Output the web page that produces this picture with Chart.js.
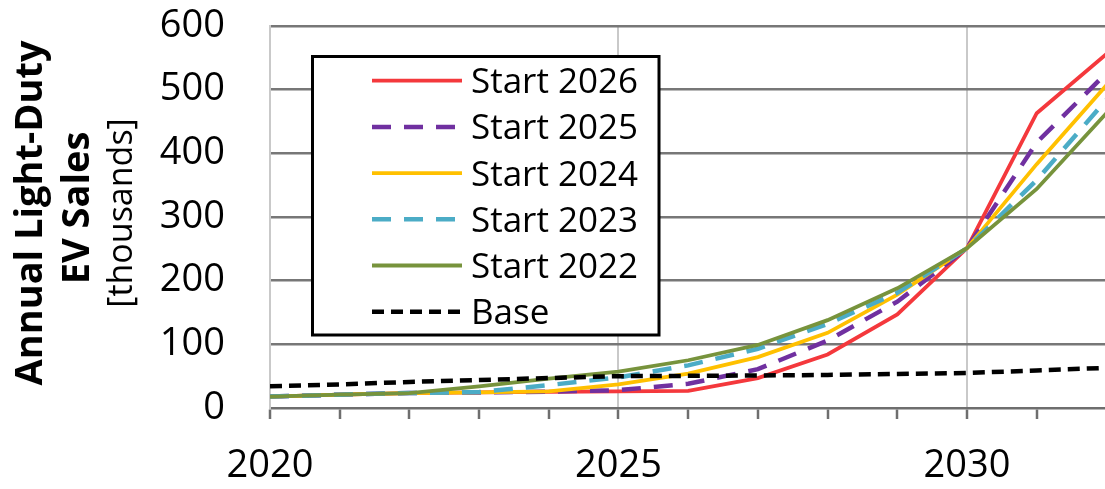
<!DOCTYPE html>
<html>
<head>
<meta charset="utf-8">
<script src="https://cdn.jsdelivr.net/npm/chart.js@4.4.1/dist/chart.umd.min.js"></script>
<style>
  html, body { margin: 0; padding: 0; background: #ffffff; overflow: hidden; }
  #wrap { position: relative; width: 1105px; height: 489px; }
</style>
</head>
<body>
<div id="wrap"><canvas id="chart" width="1105" height="489"></canvas></div>
<script>
// Annual light-duty EV sales (thousands) by year, per program start year
const years = [2020, 2021, 2022, 2023, 2024, 2025, 2026, 2027, 2028, 2029, 2030, 2031, 2032];
const base      = [34, 37, 41, 44, 47, 50, 50.5, 51, 52, 53.5, 55, 59, 63];
const start2022 = [18, 21, 23.5, 34, 46, 57, 75, 99, 138, 188, 251, 344, 463];
const start2023 = [18, 21, 23.5, 25, 36, 48, 67, 93, 132, 181, 251, 358, 484];
const start2024 = [18, 21, 23.5, 24.5, 26, 37, 54, 80, 118, 178, 251, 383, 507];
const start2025 = [18, 21, 23.5, 24.5, 25.5, 28, 38, 61, 106, 167, 251, 417, 526];
const start2026 = [18, 21, 23.5, 24.5, 25.5, 26, 27, 47, 84, 147, 251, 463, 556];

const xLabelYears = [2020, 2025, 2030];
const yTickValues = [0, 100, 200, 300, 400, 500, 600];
const titleLines = ['Annual Light-Duty', 'EV Sales', '[thousands]'];

const FONT = "'Open Sans', 'DejaVu Sans', sans-serif";

function pts(vals) { return years.map((y, i) => ({ x: y, y: vals[i] })); }

function series(label, vals, color, dash, width) {
  return {
    label: label,
    data: pts(vals),
    borderColor: color,
    backgroundColor: color,
    borderWidth: width,
    borderDash: dash,
    pointRadius: 0,
    pointHoverRadius: 0,
    tension: 0,
    fill: false
  };
}

// First dataset is painted last (on top), so the baseline goes first.
const datasets = [
  series('Base',       base,      '#000000', [12, 7],  4.5),
  series('Start 2022', start2022, '#77933c', [],       3.8),
  series('Start 2023', start2023, '#4bacc6', [19, 13], 4.5),
  series('Start 2024', start2024, '#ffc000', [],       3.8),
  series('Start 2025', start2025, '#7030a0', [19, 13], 4.5),
  series('Start 2026', start2026, '#f4383c', [],       3.8)
];

// Rotated, mixed-weight axis title on the left
const axisTitle = {
  id: 'axisTitle',
  afterDraw(chart) {
    const ctx = chart.ctx;
    const rows = [
      { text: titleLines[0], x: 42,  y: 213, font: `bold 38px ${FONT}` },
      { text: titleLines[1], x: 89,  y: 208, font: `bold 38px ${FONT}` },
      { text: titleLines[2], x: 132, y: 213, font: `34px ${FONT}` }
    ];
    ctx.save();
    ctx.fillStyle = '#000000';
    rows.forEach(r => {
      ctx.save();
      ctx.translate(r.x, r.y);
      ctx.rotate(-Math.PI / 2);
      ctx.font = r.font;
      ctx.textAlign = 'center';
      ctx.textBaseline = 'alphabetic';
      ctx.fillText(r.text, 0, 0);
      ctx.restore();
    });
    ctx.restore();
  }
};

// Boxed legend inside the plot area
const boxedLegend = {
  id: 'boxedLegend',
  afterDraw(chart) {
    const ctx = chart.ctx;
    const box = { left: 312.5, top: 56.5, right: 659, bottom: 335 };
    ctx.save();
    ctx.fillStyle = '#ffffff';
    ctx.fillRect(box.left, box.top, box.right - box.left, box.bottom - box.top);
    ctx.strokeStyle = '#000000';
    ctx.lineWidth = 3;
    ctx.strokeRect(box.left, box.top, box.right - box.left, box.bottom - box.top);

    const order = chart.data.datasets.slice().reverse();
    order.forEach((ds, i) => {
      const cy = 80.7 + i * 46.2;
      ctx.beginPath();
      ctx.setLineDash(ds.borderDash || []);
      ctx.lineDashOffset = 0;
      ctx.strokeStyle = ds.borderColor;
      ctx.lineWidth = ds.borderWidth;
      ctx.lineCap = 'butt';
      ctx.moveTo(372, cy);
      ctx.lineTo(462, cy);
      ctx.stroke();
      ctx.setLineDash([]);
      ctx.fillStyle = '#000000';
      ctx.font = `35px ${FONT}`;
      ctx.textAlign = 'left';
      ctx.textBaseline = 'alphabetic';
      ctx.fillText(ds.label, 471, cy + 12.5);
    });
    ctx.restore();
  }
};

new Chart(document.getElementById('chart'), {
  type: 'line',
  data: { datasets: datasets },
  options: {
    responsive: false,
    maintainAspectRatio: false,
    animation: false,
    devicePixelRatio: 1,
    layout: { padding: { left: 0, right: 0, top: 26, bottom: 0 } },
    plugins: {
      legend: { display: false },
      tooltip: { enabled: false },
      title: { display: false }
    },
    scales: {
      x: {
        type: 'linear',
        min: 2020,
        max: 2031.98,
        offset: false,
        ticks: {
          stepSize: 1,
          autoSkip: false,
          includeBounds: false,
          maxRotation: 0,
          padding: 24,
          color: '#000000',
          font: { family: FONT, size: 38 },
          callback: (v) => xLabelYears.includes(v) ? String(v) : ''
        },
        grid: {
          color: (c) => (c.tick && xLabelYears.includes(c.tick.value)) ? '#c9c9c9' : 'rgba(0,0,0,0)',
          lineWidth: 2,
          drawTicks: true,
          tickLength: 11,
          tickColor: '#6e6e6e',
          tickWidth: 2.5
        },
        border: { display: true, color: '#6e6e6e', width: 2.5 },
        afterFit: (scale) => {
          scale.height = 81;
          scale.paddingLeft = 0; scale.paddingRight = 0;
          scale.paddingTop = 0; scale.paddingBottom = 0;
        }
      },
      y: {
        min: 0,
        max: 600,
        afterBuildTicks: (scale) => { scale.ticks = yTickValues.map(v => ({ value: v })); },
        ticks: {
          padding: 45,
          color: '#000000',
          font: { family: FONT, size: 38 }
        },
        grid: {
          color: (c) => (c.tick && c.tick.value === 0) ? 'rgba(0,0,0,0)' : '#777777',
          lineWidth: 2.5,
          drawTicks: false
        },
        border: { display: true, color: '#c9c9c9', width: 2 },
        afterFit: (scale) => {
          scale.width = 270;
          scale.paddingTop = 0; scale.paddingBottom = 0;
          scale.paddingLeft = 0; scale.paddingRight = 0;
        }
      }
    }
  },
  plugins: [axisTitle, boxedLegend]
});
</script>
</body>
</html>
